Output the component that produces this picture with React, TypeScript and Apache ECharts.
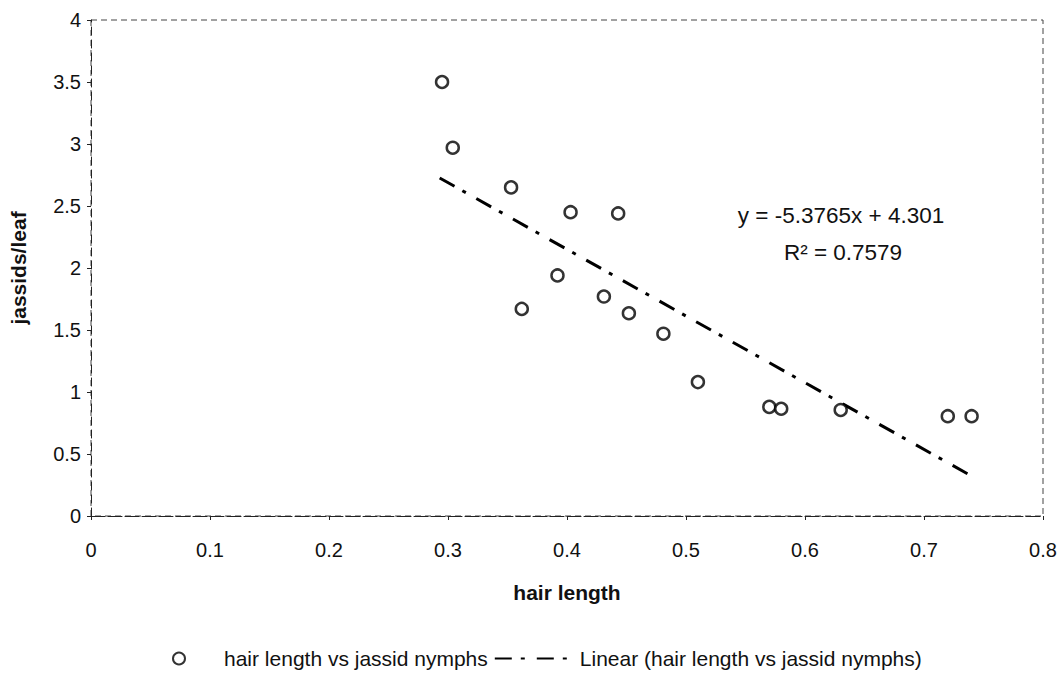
import React, { useEffect, useRef } from "react";
import * as echarts from "echarts";

// hair length (x) vs jassid nymphs per leaf (y)
const hairLength = [0.295, 0.304, 0.353, 0.403, 0.443, 0.392, 0.431, 0.362, 0.452, 0.481, 0.51, 0.57, 0.58, 0.63, 0.72, 0.74];
const jassidsPerLeaf = [3.5, 2.97, 2.65, 2.45, 2.44, 1.94, 1.77, 1.67, 1.635, 1.47, 1.08, 0.88, 0.865, 0.855, 0.805, 0.805];

// linear trendline end points
const trendX = [0.293, 0.74];
const trendY = [2.726, 0.322];

const scatterName = "hair length vs jassid nymphs";
const trendName = "Linear (hair length vs jassid nymphs)";
const equationText = "y = -5.3765x + 4.301";
const r2Text = "R\u00B2 = 0.7579";

const FONT = "'Liberation Sans', Arial, sans-serif";

export default function App() {
  const ref = useRef<HTMLDivElement>(null);
  useEffect(() => {
    if (!ref.current) return;
    const chart = echarts.init(ref.current, null, { renderer: "svg" });
    const scatterData = hairLength.map((x, i) => [x, jassidsPerLeaf[i]]);
    const trendData = trendX.map((x, i) => [x, trendY[i]]);
    chart.setOption({
      animation: false,
      backgroundColor: "#ffffff",
      textStyle: { fontFamily: FONT, color: "#111" },
      grid: {
        left: 89,
        top: 20,
        width: 954,
        height: 496,
        show: true,
        borderColor: "#444",
        borderWidth: 1,
        borderType: [6, 4],
      },
      xAxis: {
        type: "value",
        min: 0,
        max: 0.8,
        interval: 0.1,
        name: "hair length",
        nameLocation: "middle",
        nameGap: 66,
        nameTextStyle: { fontFamily: FONT, fontSize: 21, fontWeight: "bold", color: "#111" },
        axisLine: { show: true, onZero: false, lineStyle: { color: "#222", width: 1, type: [14, 3] } },
        axisTick: { show: true, inside: false, length: 4, lineStyle: { color: "#222" } },
        axisLabel: { fontFamily: FONT, fontSize: 20, color: "#111", margin: 24 },
        splitLine: { show: false },
      },
      yAxis: {
        type: "value",
        min: 0,
        max: 4,
        interval: 0.5,
        name: "jassids/leaf",
        nameLocation: "middle",
        nameGap: 62,
        nameTextStyle: { fontFamily: FONT, fontSize: 21, fontWeight: "bold", color: "#111" },
        axisLine: { show: true, onZero: false, lineStyle: { color: "#222", width: 1, type: [8, 5] } },
        axisTick: { show: true, inside: false, length: 4, lineStyle: { color: "#222" } },
        axisLabel: { fontFamily: FONT, fontSize: 20, color: "#111", margin: 10 },
        splitLine: { show: false },
      },
      legend: {
        left: 167,
        top: 643,
        itemWidth: 80,
        itemHeight: 12,
        itemGap: 6,
        textStyle: { fontFamily: FONT, fontSize: 21, color: "#111", padding: [0, 0, 0, 0] },
        data: [
          { name: scatterName },
          { name: trendName, itemStyle: { opacity: 0, color: "transparent", borderWidth: 0 } },
        ],
      },
      graphic: [
        {
          type: "text",
          x: 841,
          y: 215,
          style: { text: equationText, fontFamily: FONT, fontSize: 22.5, fill: "#111", align: "center", verticalAlign: "middle" },
        },
        {
          type: "text",
          x: 843,
          y: 252,
          style: { text: r2Text, fontFamily: FONT, fontSize: 22.5, fill: "#111", align: "center", verticalAlign: "middle" },
        },
      ],
      series: [
        {
          name: trendName,
          type: "line",
          data: trendData,
          symbol: "none",
          lineStyle: { color: "#000", width: 3, type: [17, 9, 4, 12] },
          itemStyle: { color: "#000" },
          z: 2,
        },
        {
          name: scatterName,
          type: "scatter",
          data: scatterData,
          symbol: "circle",
          symbolSize: 12,
          itemStyle: { color: "#ffffff", borderColor: "#000", borderWidth: 2.5 },
          z: 3,
        },
      ],
    });
    return () => chart.dispose();
  }, []);
  return (
    <div
      ref={ref}
      style={{ position: "fixed", left: 0, top: 0, width: 1062, height: 673, background: "#fff" }}
    />
  );
}
